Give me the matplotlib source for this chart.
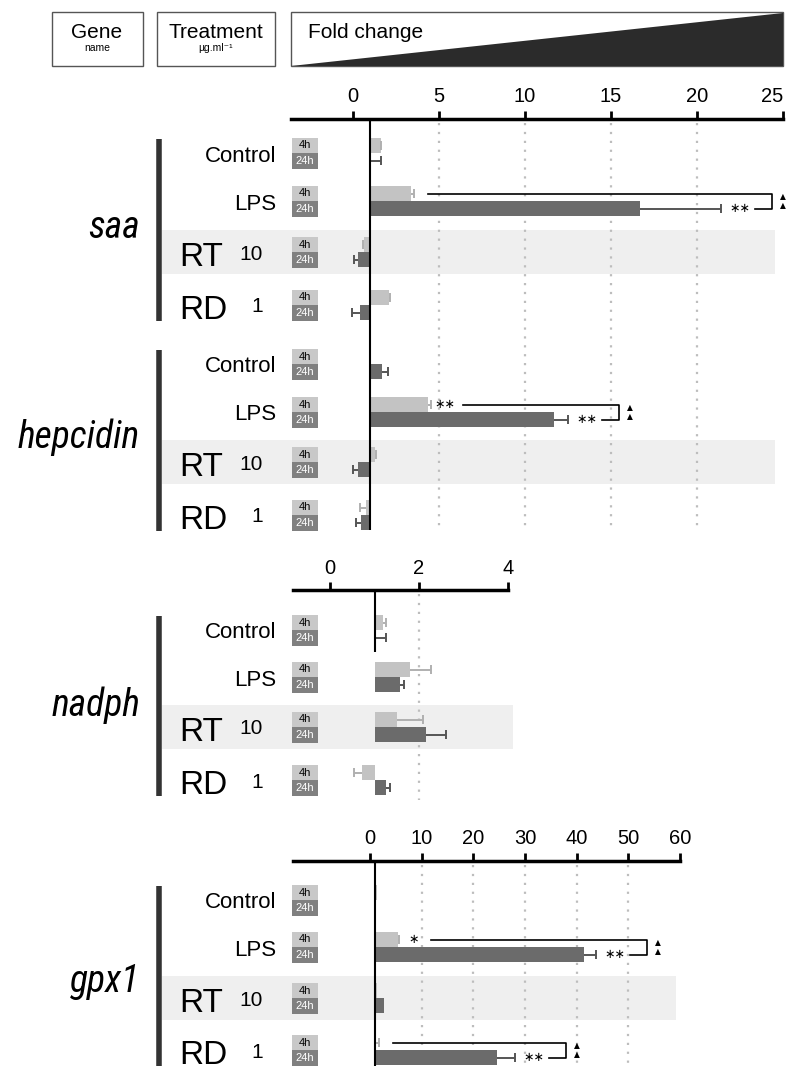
"""Fold change panels for saa / hepcidin / nadph / gpx1."""
import numpy as np
import matplotlib
matplotlib.use("Agg")
import matplotlib.pyplot as plt
from matplotlib import font_manager
from matplotlib.patches import Rectangle, Polygon

plt.rcParams['font.family'] = ['Liberation Sans', 'DejaVu Sans']

W, H = 788, 1066

TREATMENTS = ["Control", "LPS", "RT", "RD"]
DOSES = ["", "", "10", "1"]
TIMES = ["4h", "24h"]

# fold change, per treatment (Control, LPS, RT 10, RD 1)
SAA_4H = [1.6, 3.4, 0.66, 2.1]
SAA_4H_ERR = [0.05, 0.12, 0.06, 0.03]
SAA_24H = [1.05, 16.7, 0.30, 0.42]
SAA_24H_ERR = [0.6, 4.7, 0.24, 0.47]
SAA_SIG_4H = ["", "", "", ""]
SAA_SIG_24H = ["", "**", "", ""]
SAA_TRI = [False, True, False, False]

HEP_4H = [1.0, 4.35, 1.3, 0.77]
HEP_4H_ERR = [0.0, 0.18, 0.05, 0.35]
HEP_24H = [1.67, 11.7, 0.30, 0.49]
HEP_24H_ERR = [0.36, 0.8, 0.3, 0.32]
HEP_SIG_4H = ["", "**", "", ""]
HEP_SIG_24H = ["", "**", "", ""]
HEP_TRI = [False, True, False, False]

NADPH_4H = [1.2, 1.8, 1.5, 0.71]
NADPH_4H_ERR = [0.05, 0.48, 0.6, 0.18]
NADPH_24H = [1.04, 1.57, 2.16, 1.26]
NADPH_24H_ERR = [0.22, 0.09, 0.44, 0.08]
NADPH_SIG_4H = ["", "", "", ""]
NADPH_SIG_24H = ["", "", "", ""]
NADPH_TRI = [False, False, False, False]

GPX1_4H = [1.4, 5.4, 1.3, 1.1]
GPX1_4H_ERR = [0.0, 0.3, 0.0, 0.7]
GPX1_24H = [1.2, 41.4, 2.7, 24.6]
GPX1_24H_ERR = [0.0, 2.4, 0.0, 3.4]
GPX1_SIG_4H = ["", "*", "", ""]
GPX1_SIG_24H = ["", "**", "", "**"]
GPX1_TRI = [False, True, False, True]

TICKS_A = [0, 5, 10, 15, 20, 25]
TICKS_B = [0, 2, 4]
TICKS_C = [0, 10, 20, 30, 40, 50, 60]

C4, C24 = '#c3c3c3', '#6b6b6b'
E4, E24 = '#b0b0b0', '#555555'
BAND = '#efefef'

# narrowest italic family available for the gene names
fl = font_manager.fontManager.ttflist
names = {f.name for f in fl}
GENE_KW = dict(family=['Liberation Sans'], style='italic')
for cand in ['Roboto Condensed', 'Liberation Sans Narrow', 'Open Sans Condensed']:
    if cand in names:
        GENE_KW = dict(family=[cand], style='italic', fontweight='normal')
        break
else:
    if any(f.name == 'DejaVu Sans' and f.stretch == 'condensed' and f.style != 'normal' for f in fl):
        GENE_KW = dict(family=['DejaVu Sans'], style='oblique', fontstretch='condensed')

fig = plt.figure(figsize=(W / 100, H / 100), dpi=100)
bg = fig.add_axes([0, 0, 1, 1])
bg.set_xlim(0, W); bg.set_ylim(H, 0); bg.axis('off')

# header
bg.add_patch(Rectangle((52, 12), 91, 54, fc='white', ec='#555', lw=1))
bg.add_patch(Rectangle((157, 12), 118, 54, fc='white', ec='#555', lw=1))
bg.add_patch(Rectangle((291, 12), 492, 54, fc='white', ec='#555', lw=1))
bg.add_patch(Polygon([(291, 66), (783, 13), (783, 66)], closed=True, fc='#2b2b2b', ec='none'))
bg.text(97, 38, "Gene", fontsize=15, ha='center', va='baseline')
bg.text(97, 51, "name", fontsize=7.5, ha='center', va='baseline')
bg.text(216, 38, "Treatment", fontsize=15, ha='center', va='baseline')
bg.text(216, 51, "µg.ml⁻¹", fontsize=7.5, ha='center', va='baseline')
bg.text(308, 38, "Fold change", fontsize=15, ha='left', va='baseline')

gene_texts = []


def panel(top, bottom, left, right, zero, ppu, ticks, grid_bottom, base_bottom):
    xlim = ((left - zero) / ppu, (right - zero) / ppu)
    ax = fig.add_axes([left / W, 1 - bottom / H, (right - left) / W, (bottom - top) / H])
    ax.set_xlim(xlim); ax.set_ylim(bottom, top)
    ax.patch.set_alpha(0)
    for s in ['left', 'right', 'bottom']:
        ax.spines[s].set_visible(False)
    ax.spines['top'].set_linewidth(2.5)
    ax.xaxis.tick_top()
    ax.set_xticks(ticks)
    ax.tick_params(axis='x', direction='out', length=6, width=2, labelsize=14.5, pad=3)
    ax.set_yticks([])
    ax.vlines(ticks[1:-1], top + 4, grid_bottom, colors='#bdbdbd', lw=1.6,
              linestyles=(0, (1, 3)), zorder=0)
    ax.vlines(1, top, base_bottom, colors='black', lw=1.5, zorder=3)
    return ax, ppu


def gene(ax, ppu, rows, band_right, name, name_y, v4, e4, v24, e24, s4, s24, tri):
    bg.add_patch(Rectangle((162, rows[2] - 22), band_right - 162, 44, fc=BAND, ec='none'))
    bg.plot([159, 159], [rows[0] - 14, rows[-1] + 16], color='#333', lw=4, solid_capstyle='butt')
    gene_texts.append(bg.text(140, name_y, name, fontsize=31, ha='right', va='baseline',
                              **GENE_KW))
    for i, r in enumerate(rows):
        if DOSES[i]:
            bg.text(179, r + 14, TREATMENTS[i], fontsize=24, ha='left', va='baseline')
            bg.text(251 if len(DOSES[i]) > 1 else 257, r + 7.5, DOSES[i], fontsize=15,
                    ha='center', va='baseline')
        else:
            bg.text(276, r + 8.5, TREATMENTS[i], fontsize=16, ha='right', va='baseline')
        bg.add_patch(Rectangle((292, r - 15), 26, 15, fc='#c8c8c8', ec='none'))
        bg.add_patch(Rectangle((292, r), 26, 16, fc='#808080', ec='none'))
        bg.text(305, r - 7.5, TIMES[0], fontsize=8, ha='center', va='center', color='black')
        bg.text(305, r + 8, TIMES[1], fontsize=8, ha='center', va='center', color='white')

    y4 = np.array(rows) - 7.5
    y24 = np.array(rows) + 7.5
    for y, v, e, c, ec in [(y4, v4, e4, C4, E4), (y24, v24, e24, C24, E24)]:
        v = np.array(v); e = np.array(e)
        ax.barh(y, v - 1, left=1, height=15, color=c, zorder=2)
        for yy, vv, ee in zip(y, v, e):
            if ee <= 0:
                continue
            end = vv + ee if vv >= 1 else vv - ee
            ax.hlines(yy, vv, end, colors=ec, lw=1.4, zorder=2)
            ax.vlines(end, yy - 4.5, yy + 4.5, colors=ec, lw=1.4, zorder=2)

    px = 1 / ppu
    for i in range(len(rows)):
        end4 = max(v4[i] + e4[i], 1)
        end24 = max(v24[i] + e24[i], 1)
        if s4[i]:
            ax.text(end4 + 14 * px, y4[i], s4[i].replace('*', '∗'), family=['DejaVu Sans'],
                    fontsize=9, ha='center', va='center')
        if s24[i]:
            ax.text(end24 + 19 * px, y24[i], s24[i].replace('*', '∗'), family=['DejaVu Sans'],
                    fontsize=9, ha='center', va='center')
        if tri[i]:
            start = end4 + (32 if s4[i] else 14) * px
            right = end24 + 51 * px
            back = end24 + 34 * px
            ax.plot([start, right, right, back], [y4[i], y4[i], y24[i], y24[i]],
                    color='black', lw=1.2, clip_on=False, zorder=3)
            ax.text(end24 + 62 * px, rows[i], "▲\n▲", family=['DejaVu Sans'], fontsize=5.5,
                    linespacing=1.1, ha='center', va='center', clip_on=False)


axA, ppuA = panel(119, 530, 291, 783, 353, 17.2, TICKS_A, 530, 530)
axA.get_xticklabels()[-1].set_horizontalalignment('right')
gene(axA, ppuA, [153, 201, 252, 305], 775, "saa", 238,
     SAA_4H, SAA_4H_ERR, SAA_24H, SAA_24H_ERR, SAA_SIG_4H, SAA_SIG_24H, SAA_TRI)
gene(axA, ppuA, [364, 412, 462, 515], 775, "hepcidin", 448,
     HEP_4H, HEP_4H_ERR, HEP_24H, HEP_24H_ERR, HEP_SIG_4H, HEP_SIG_24H, HEP_TRI)

axB, ppuB = panel(590, 800, 293, 508, 330, 44.5, TICKS_B, 800, 652)
gene(axB, ppuB, [630, 677, 727, 780], 513, "nadph", 716,
     NADPH_4H, NADPH_4H_ERR, NADPH_24H, NADPH_24H_ERR, NADPH_SIG_4H, NADPH_SIG_24H, NADPH_TRI)

axC, ppuC = panel(861, 1066, 293, 680, 370, 5.167, TICKS_C, 1066, 1066)
gene(axC, ppuC, [900, 947, 998, 1050], 676, "gpx1", 992,
     GPX1_4H, GPX1_4H_ERR, GPX1_24H, GPX1_24H_ERR, GPX1_SIG_4H, GPX1_SIG_24H, GPX1_TRI)

# size gene names so that "hepcidin" spans about the reference width
fig.canvas.draw()
r = fig.canvas.get_renderer()
wid = gene_texts[1].get_window_extent(r).width
size = min(36, 31 * 122 / wid)
for t in gene_texts:
    t.set_fontsize(size)

fig.savefig("out.png", dpi=100)
